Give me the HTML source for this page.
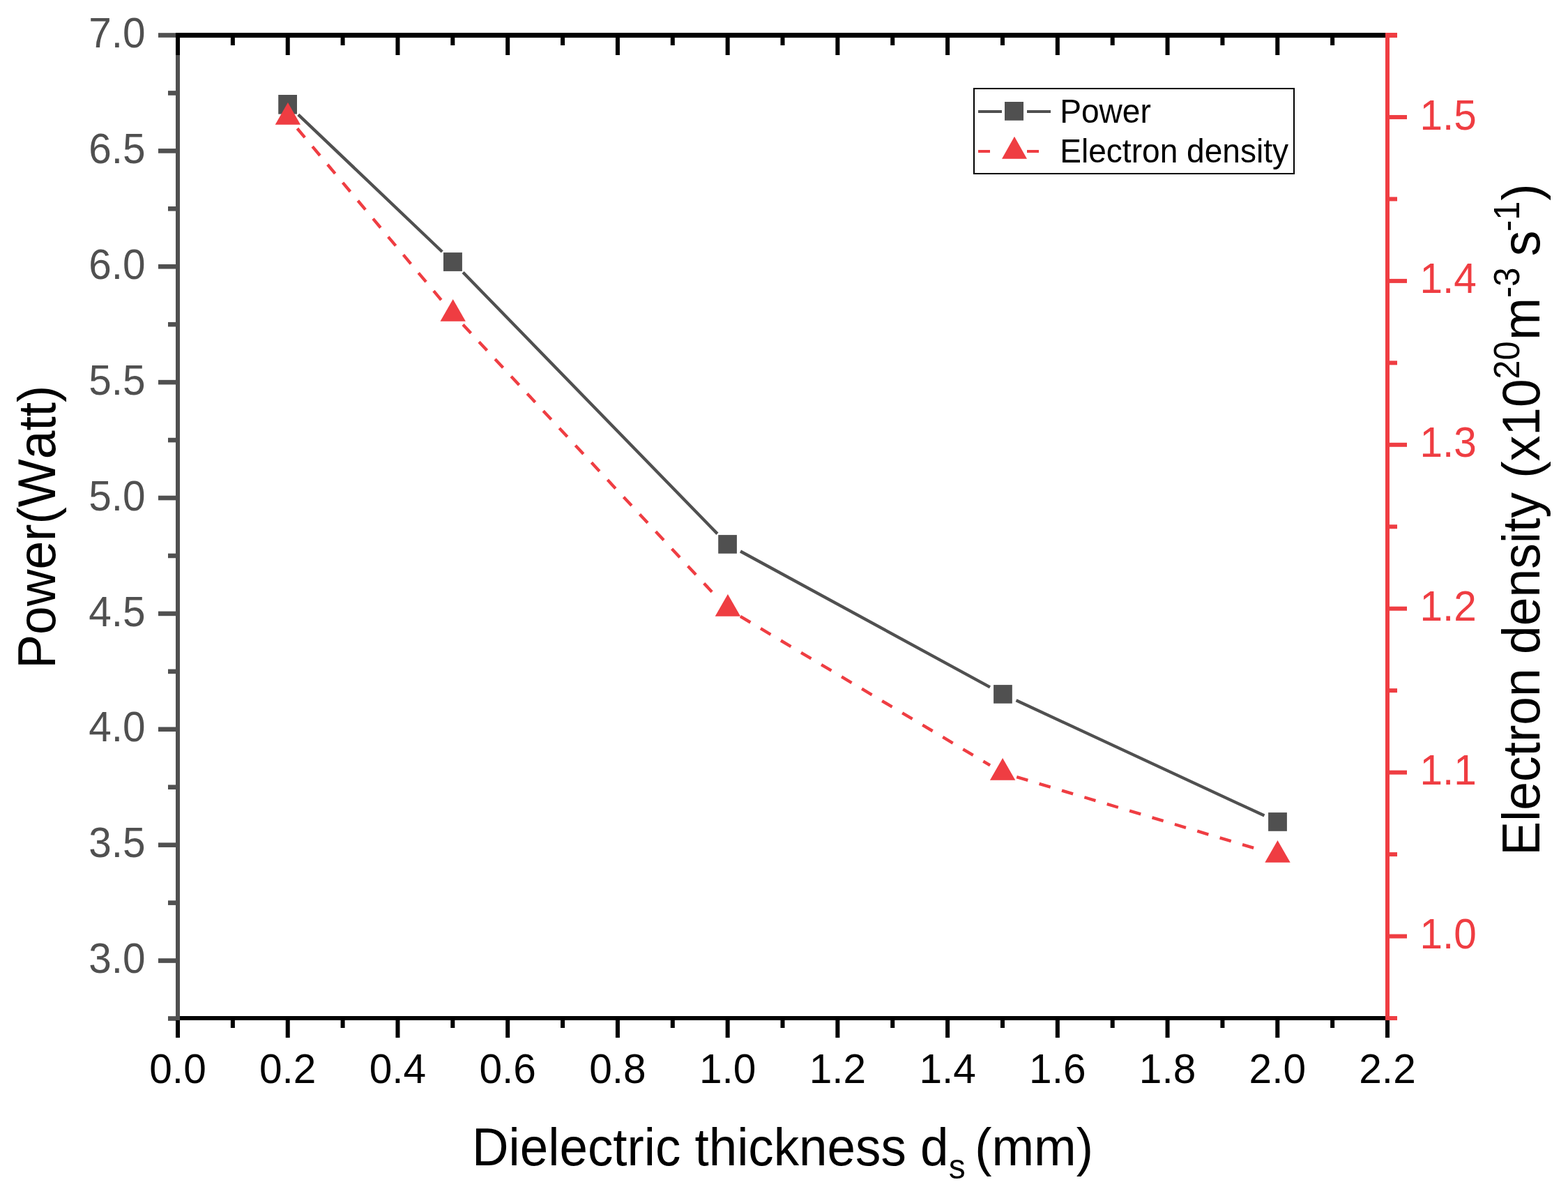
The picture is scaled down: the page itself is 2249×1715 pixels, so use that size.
<!DOCTYPE html>
<html><head><meta charset="utf-8"><title>Power and electron density vs dielectric thickness</title>
<style>
html,body{margin:0;padding:0;background:#fff;}
body{width:2249px;height:1715px;overflow:hidden;}
svg{display:block;}
text{font-family:'Liberation Sans', Arial, sans-serif;font-kerning:none;white-space:pre;}
</style></head>
<body>
<svg width="2249" height="1715" viewBox="0 0 2249 1715">
<rect x="0" y="0" width="2249" height="1715" fill="#fff"/>
<rect x="252" y="1457" width="1741" height="6" fill="#000000"/>
<rect x="252" y="1463" width="6" height="25" fill="#000000"/>
<rect x="330.86" y="1463" width="6" height="11" fill="#000000"/>
<rect x="409.73" y="1463" width="6" height="25" fill="#000000"/>
<rect x="488.59" y="1463" width="6" height="11" fill="#000000"/>
<rect x="567.46" y="1463" width="6" height="25" fill="#000000"/>
<rect x="646.32" y="1463" width="6" height="11" fill="#000000"/>
<rect x="725.18" y="1463" width="6" height="25" fill="#000000"/>
<rect x="804.05" y="1463" width="6" height="11" fill="#000000"/>
<rect x="882.91" y="1463" width="6" height="25" fill="#000000"/>
<rect x="961.78" y="1463" width="6" height="11" fill="#000000"/>
<rect x="1040.64" y="1463" width="6" height="25" fill="#000000"/>
<rect x="1119.5" y="1463" width="6" height="11" fill="#000000"/>
<rect x="1198.37" y="1463" width="6" height="25" fill="#000000"/>
<rect x="1277.23" y="1463" width="6" height="11" fill="#000000"/>
<rect x="1356.1" y="1463" width="6" height="25" fill="#000000"/>
<rect x="1434.96" y="1463" width="6" height="11" fill="#000000"/>
<rect x="1513.82" y="1463" width="6" height="25" fill="#000000"/>
<rect x="1592.69" y="1463" width="6" height="11" fill="#000000"/>
<rect x="1671.55" y="1463" width="6" height="25" fill="#000000"/>
<rect x="1750.42" y="1463" width="6" height="11" fill="#000000"/>
<rect x="1829.28" y="1463" width="6" height="25" fill="#000000"/>
<rect x="1908.14" y="1463" width="6" height="11" fill="#000000"/>
<rect x="1987.01" y="1463" width="6" height="25" fill="#000000"/>
<rect x="252" y="47" width="6" height="1416" fill="#505050"/>
<rect x="241" y="1457.18" width="11" height="6.6" fill="#505050"/>
<rect x="227" y="1374.24" width="25" height="6.6" fill="#505050"/>
<rect x="241" y="1291.3" width="11" height="6.6" fill="#505050"/>
<rect x="227" y="1208.36" width="25" height="6.6" fill="#505050"/>
<rect x="241" y="1125.42" width="11" height="6.6" fill="#505050"/>
<rect x="227" y="1042.48" width="25" height="6.6" fill="#505050"/>
<rect x="241" y="959.54" width="11" height="6.6" fill="#505050"/>
<rect x="227" y="876.6" width="25" height="6.6" fill="#505050"/>
<rect x="241" y="793.66" width="11" height="6.6" fill="#505050"/>
<rect x="227" y="710.72" width="25" height="6.6" fill="#505050"/>
<rect x="241" y="627.78" width="11" height="6.6" fill="#505050"/>
<rect x="227" y="544.84" width="25" height="6.6" fill="#505050"/>
<rect x="241" y="461.9" width="11" height="6.6" fill="#505050"/>
<rect x="227" y="378.96" width="25" height="6.6" fill="#505050"/>
<rect x="241" y="296.02" width="11" height="6.6" fill="#505050"/>
<rect x="227" y="213.08" width="25" height="6.6" fill="#505050"/>
<rect x="241" y="130.14" width="11" height="6.6" fill="#505050"/>
<rect x="227" y="47.2" width="25" height="6.6" fill="#505050"/>
<rect x="252" y="47" width="1741" height="7" fill="#000000"/>
<rect x="252" y="54" width="6" height="25" fill="#000000"/>
<rect x="330.86" y="54" width="6" height="11" fill="#000000"/>
<rect x="409.73" y="54" width="6" height="25" fill="#000000"/>
<rect x="488.59" y="54" width="6" height="11" fill="#000000"/>
<rect x="567.46" y="54" width="6" height="25" fill="#000000"/>
<rect x="646.32" y="54" width="6" height="11" fill="#000000"/>
<rect x="725.18" y="54" width="6" height="25" fill="#000000"/>
<rect x="804.05" y="54" width="6" height="11" fill="#000000"/>
<rect x="882.91" y="54" width="6" height="25" fill="#000000"/>
<rect x="961.78" y="54" width="6" height="11" fill="#000000"/>
<rect x="1040.64" y="54" width="6" height="25" fill="#000000"/>
<rect x="1119.5" y="54" width="6" height="11" fill="#000000"/>
<rect x="1198.37" y="54" width="6" height="25" fill="#000000"/>
<rect x="1277.23" y="54" width="6" height="11" fill="#000000"/>
<rect x="1356.1" y="54" width="6" height="25" fill="#000000"/>
<rect x="1434.96" y="54" width="6" height="11" fill="#000000"/>
<rect x="1513.82" y="54" width="6" height="25" fill="#000000"/>
<rect x="1592.69" y="54" width="6" height="11" fill="#000000"/>
<rect x="1671.55" y="54" width="6" height="25" fill="#000000"/>
<rect x="1750.42" y="54" width="6" height="11" fill="#000000"/>
<rect x="1829.28" y="54" width="6" height="25" fill="#000000"/>
<rect x="1908.14" y="54" width="6" height="11" fill="#000000"/>
<rect x="1987.01" y="54" width="6" height="25" fill="#000000"/>
<rect x="1987" y="47" width="6" height="1416" fill="#EF3D42"/>
<rect x="1993" y="1457.02" width="11" height="6" fill="#EF3D42"/>
<rect x="1993" y="1339.56" width="25" height="6" fill="#EF3D42"/>
<rect x="1993" y="1222.1" width="11" height="6" fill="#EF3D42"/>
<rect x="1993" y="1104.64" width="25" height="6" fill="#EF3D42"/>
<rect x="1993" y="987.18" width="11" height="6" fill="#EF3D42"/>
<rect x="1993" y="869.72" width="25" height="6" fill="#EF3D42"/>
<rect x="1993" y="752.26" width="11" height="6" fill="#EF3D42"/>
<rect x="1993" y="634.8" width="25" height="6" fill="#EF3D42"/>
<rect x="1993" y="517.34" width="11" height="6" fill="#EF3D42"/>
<rect x="1993" y="399.88" width="25" height="6" fill="#EF3D42"/>
<rect x="1993" y="282.42" width="11" height="6" fill="#EF3D42"/>
<rect x="1993" y="164.96" width="25" height="6" fill="#EF3D42"/>
<rect x="1993" y="47" width="11" height="7" fill="#EF3D42"/>
<text transform="translate(208.7,1395.14) scale(1,1.045)" font-size="58.6" fill="#505050" text-anchor="end">3.0</text>
<text transform="translate(208.7,1229.26) scale(1,1.045)" font-size="58.6" fill="#505050" text-anchor="end">3.5</text>
<text transform="translate(208.7,1063.38) scale(1,1.045)" font-size="58.6" fill="#505050" text-anchor="end">4.0</text>
<text transform="translate(208.7,897.5) scale(1,1.045)" font-size="58.6" fill="#505050" text-anchor="end">4.5</text>
<text transform="translate(208.7,731.62) scale(1,1.045)" font-size="58.6" fill="#505050" text-anchor="end">5.0</text>
<text transform="translate(208.7,565.74) scale(1,1.045)" font-size="58.6" fill="#505050" text-anchor="end">5.5</text>
<text transform="translate(208.7,399.86) scale(1,1.045)" font-size="58.6" fill="#505050" text-anchor="end">6.0</text>
<text transform="translate(208.7,233.98) scale(1,1.045)" font-size="58.6" fill="#505050" text-anchor="end">6.5</text>
<text transform="translate(208.7,68.1) scale(1,1.045)" font-size="58.6" fill="#505050" text-anchor="end">7.0</text>
<text transform="translate(2036.4,1360.16) scale(1,1.045)" font-size="58.6" fill="#EF3D42">1.0</text>
<text transform="translate(2036.4,1125.24) scale(1,1.045)" font-size="58.6" fill="#EF3D42">1.1</text>
<text transform="translate(2036.4,890.32) scale(1,1.045)" font-size="58.6" fill="#EF3D42">1.2</text>
<text transform="translate(2036.4,655.4) scale(1,1.045)" font-size="58.6" fill="#EF3D42">1.3</text>
<text transform="translate(2036.4,420.48) scale(1,1.045)" font-size="58.6" fill="#EF3D42">1.4</text>
<text transform="translate(2036.4,185.56) scale(1,1.045)" font-size="58.6" fill="#EF3D42">1.5</text>
<text transform="translate(255,1553.3) scale(1,1.01)" font-size="58.6" fill="#000000" text-anchor="middle">0.0</text>
<text transform="translate(412.73,1553.3) scale(1,1.01)" font-size="58.6" fill="#000000" text-anchor="middle">0.2</text>
<text transform="translate(570.46,1553.3) scale(1,1.01)" font-size="58.6" fill="#000000" text-anchor="middle">0.4</text>
<text transform="translate(728.18,1553.3) scale(1,1.01)" font-size="58.6" fill="#000000" text-anchor="middle">0.6</text>
<text transform="translate(885.91,1553.3) scale(1,1.01)" font-size="58.6" fill="#000000" text-anchor="middle">0.8</text>
<text transform="translate(1043.64,1553.3) scale(1,1.01)" font-size="58.6" fill="#000000" text-anchor="middle">1.0</text>
<text transform="translate(1201.37,1553.3) scale(1,1.01)" font-size="58.6" fill="#000000" text-anchor="middle">1.2</text>
<text transform="translate(1359.1,1553.3) scale(1,1.01)" font-size="58.6" fill="#000000" text-anchor="middle">1.4</text>
<text transform="translate(1516.82,1553.3) scale(1,1.01)" font-size="58.6" fill="#000000" text-anchor="middle">1.6</text>
<text transform="translate(1674.55,1553.3) scale(1,1.01)" font-size="58.6" fill="#000000" text-anchor="middle">1.8</text>
<text transform="translate(1832.28,1553.3) scale(1,1.01)" font-size="58.6" fill="#000000" text-anchor="middle">2.0</text>
<text transform="translate(1990.01,1553.3) scale(1,1.01)" font-size="58.6" fill="#000000" text-anchor="middle">2.2</text>
<line x1="427.8" y1="164.29" x2="634.25" y2="361.01" stroke="#505050" stroke-width="4.4"/>
<line x1="664.1" y1="390.55" x2="1028.9" y2="765.38" stroke="#505050" stroke-width="4.4"/>
<line x1="1061.99" y1="790.47" x2="1420.01" y2="985.36" stroke="#505050" stroke-width="4.4"/>
<line x1="1457.5" y1="1004.25" x2="1813.45" y2="1169.6" stroke="#505050" stroke-width="4.4"/>
<line x1="426.4" y1="184.22" x2="636.2" y2="434.12" stroke="#EF3D42" stroke-width="4.4" stroke-dasharray="16.8 17"/>
<line x1="664.02" y1="465.56" x2="1029.58" y2="857.77" stroke="#EF3D42" stroke-width="4.4" stroke-dasharray="16.8 17"/>
<line x1="1061.94" y1="883.89" x2="1420.06" y2="1097.38" stroke="#EF3D42" stroke-width="4.4" stroke-dasharray="16.8 17"/>
<line x1="1458.22" y1="1114.16" x2="1812.38" y2="1220.18" stroke="#EF3D42" stroke-width="4.4" stroke-dasharray="16.8 17"/>
<rect x="399.2" y="136" width="26.8" height="27.6" fill="#505050"/>
<rect x="636" y="362.1" width="26.9" height="26.8" fill="#505050"/>
<rect x="1030.2" y="767.1" width="26.7" height="26.65" fill="#505050"/>
<rect x="1425.1" y="982.1" width="26.7" height="26.6" fill="#505050"/>
<rect x="1819.1" y="1165.1" width="26.8" height="26.7" fill="#505050"/>
<polygon points="412.9,146.9 431.1,178.75 394.7,178.75" fill="#EF3D42"/>
<polygon points="649.7,429 667.9,460.8 631.5,460.8" fill="#EF3D42"/>
<polygon points="1043.9,852 1062.1,883.7 1025.7,883.7" fill="#EF3D42"/>
<polygon points="1438.1,1087 1456.3,1118.7 1419.9,1118.7" fill="#EF3D42"/>
<polygon points="1832.5,1205 1850.7,1236.8 1814.3,1236.8" fill="#EF3D42"/>
<rect x="1397" y="127" width="459" height="122" fill="#fff" stroke="#000000" stroke-width="2"/>
<rect x="1403" y="158" width="34" height="4" fill="#505050"/>
<rect x="1473" y="158" width="34" height="4" fill="#505050"/>
<rect x="1441" y="146" width="27" height="26.75" fill="#505050"/>
<rect x="1403" y="215" width="17" height="4" fill="#EF3D42"/>
<rect x="1473" y="215" width="17" height="4" fill="#EF3D42"/>
<polygon points="1455,195.8 1473,227.75 1437,227.75" fill="#EF3D42"/>
<text transform="translate(1520.22,175.95) scale(1,1.058)" font-size="46.1" fill="#000000">Power</text>
<text transform="translate(1520.22,232.8) scale(1,1.058)" font-size="46.1" fill="#000000">Electron density</text>
<text transform="translate(0,1671) scale(1,1.045)" font-size="72.78" fill="#000000"><tspan x="677.08" y="0">Dielectric thickness d</tspan><tspan x="1360.66" y="18.56" font-size="48">s</tspan><tspan x="1377.97" y="0"> (mm)</tspan></text>
<text transform="translate(79,0) rotate(-90) scale(1,1.045)" font-size="73.13" fill="#000000"><tspan x="-958.8" y="0">Power(Watt)</tspan></text>
<text transform="translate(2208,0) rotate(-90) scale(1,1.045)" fill="#000000"><tspan x="-1226.8" y="0" font-size="73.2">Electron density (x10</tspan><tspan x="-543.84" y="-27.75" font-size="49">20</tspan><tspan x="-487.66" y="0" font-size="73.2">m</tspan><tspan x="-426.98" y="-27.75" font-size="49">-3</tspan><tspan x="-387.67" y="0" font-size="73.2"> s</tspan><tspan x="-331.98" y="-27.75" font-size="49">-1</tspan><tspan x="-287.74" y="0" font-size="73.2">)</tspan></text>
</svg>
</body></html>
